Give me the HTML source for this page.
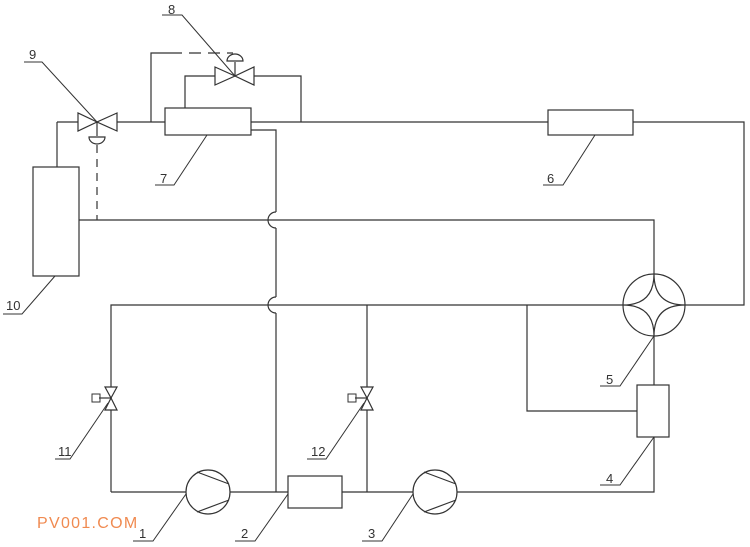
<!DOCTYPE html>
<html><head><meta charset="utf-8"><style>body{margin:0;background:#fff}svg{display:block}</style></head><body>
<svg width="750" height="547" viewBox="0 0 750 547" xmlns="http://www.w3.org/2000/svg" font-family="Liberation Sans, sans-serif" font-size="13" fill="none" stroke="#333" stroke-width="1.2">
<!-- top line -->
<line x1="57" y1="122" x2="165" y2="122"/>
<line x1="57" y1="122" x2="57" y2="167"/>
<rect x="33" y="167" width="46" height="109"/>
<line x1="251" y1="122" x2="548" y2="122"/>
<rect x="165" y="108" width="86" height="27"/>
<rect x="548" y="110" width="85" height="25"/>
<polyline points="633,122 744,122 744,305 685,305"/>
<!-- valve 9 -->
<polygon points="78,113 78,131 97,122" fill="#fff"/>
<polygon points="117,113 117,131 97,122" fill="#fff"/>
<line x1="97" y1="122" x2="97" y2="136"/>
<path d="M89,137 A8,7 0 0 0 105,137 Z" fill="#fff"/>
<line x1="97" y1="145" x2="97" y2="220" stroke-dasharray="8,6"/>
<!-- valve 8 branch -->
<polyline points="151,122 151,53 170,53"/>
<line x1="170" y1="53" x2="233" y2="53" stroke-dasharray="12,7"/>
<polyline points="185,108 185,76 215,76"/>
<polyline points="254,76 301,76 301,122"/>
<polygon points="215,67 215,85 235,76" fill="#fff"/>
<polygon points="254,67 254,85 235,76" fill="#fff"/>
<line x1="235" y1="76" x2="235" y2="62"/>
<path d="M227,61 A8,7 0 0 1 243,61 Z" fill="#fff"/>
<!-- box 7 outlet down -->
<polyline points="251,130 276,130 276,212"/>
<path d="M276,212 A8,8 0 0 0 276,228"/>
<line x1="276" y1="228" x2="276" y2="297"/>
<path d="M276,297 A8,8 0 0 0 276,313"/>
<line x1="276" y1="313" x2="276" y2="492"/>
<!-- y=220 line -->
<polyline points="79,220 654,220 654,274"/>
<!-- y=305 line -->
<polyline points="111,492 111,305 623,305"/>
<line x1="367" y1="305" x2="367" y2="492"/>
<!-- 4-way valve -->
<circle cx="654" cy="305" r="31"/>
<path d="M654,274 Q654,305 623,305 Q654,305 654,336 Q654,305 685,305 Q654,305 654,274 Z"/>
<line x1="654" y1="336" x2="654" y2="385"/>
<rect x="637" y="385" width="32" height="52"/>
<polyline points="527,305 527,411 637,411"/>
<polyline points="654,437 654,492 457,492"/>
<!-- bottom line -->
<line x1="111" y1="492" x2="186" y2="492"/>
<line x1="230" y1="492" x2="288" y2="492"/>
<line x1="342" y1="492" x2="413" y2="492"/>
<rect x="288" y="476" width="54" height="32"/>
<circle cx="208" cy="492" r="22"/>
<line x1="197" y1="472" x2="229" y2="484"/><line x1="197" y1="512" x2="229" y2="500"/>
<circle cx="435" cy="492" r="22"/>
<line x1="424" y1="472" x2="456" y2="484"/><line x1="424" y1="512" x2="456" y2="500"/>
<!-- solenoid valves -->
<polygon points="105,387 117,387 111,398" fill="#fff"/><polygon points="105,410 117,410 111,398" fill="#fff"/>
<line x1="99" y1="398" x2="111" y2="398"/><rect x="92" y="394" width="8" height="8" stroke-width="1"/>
<polygon points="361,387 373,387 367,398" fill="#fff"/><polygon points="361,410 373,410 367,398" fill="#fff"/>
<line x1="355" y1="398" x2="367" y2="398"/><rect x="348" y="394" width="8" height="8" stroke-width="1"/>
<!-- leaders -->
<g stroke-width="1">
<polyline points="24,62 42,62 97,122"/>
<polyline points="162,15 182,15 235,76"/>
<polyline points="155,185 174,185 207,135"/>
<polyline points="543,185 563,185 595,135"/>
<polyline points="3,314 22,314 55,276"/>
<polyline points="55,459 70,459 108,403"/>
<polyline points="307,459 326,459 364,403"/>
<polyline points="600,386 620,386 654,336"/>
<polyline points="600,485 620,485 654,437"/>
<polyline points="133,541 153,541 186,494"/>
<polyline points="235,541 255,541 288,494"/>
<polyline points="362,541 382,541 413,494"/>
</g>
<g fill="#333" stroke="none">
<text x="29" y="59">9</text><text x="168" y="14">8</text><text x="160" y="183">7</text>
<text x="547" y="183">6</text><text x="6" y="310">10</text><text x="58" y="456">11</text>
<text x="311" y="456">12</text><text x="606" y="384">5</text><text x="606" y="483">4</text>
<text x="139" y="538">1</text><text x="241" y="538">2</text><text x="368" y="538">3</text>
</g>
<text x="37" y="528" fill="#f08a50" stroke="none" font-size="16" letter-spacing="1.3">PV001.COM</text>
</svg>
</body></html>
